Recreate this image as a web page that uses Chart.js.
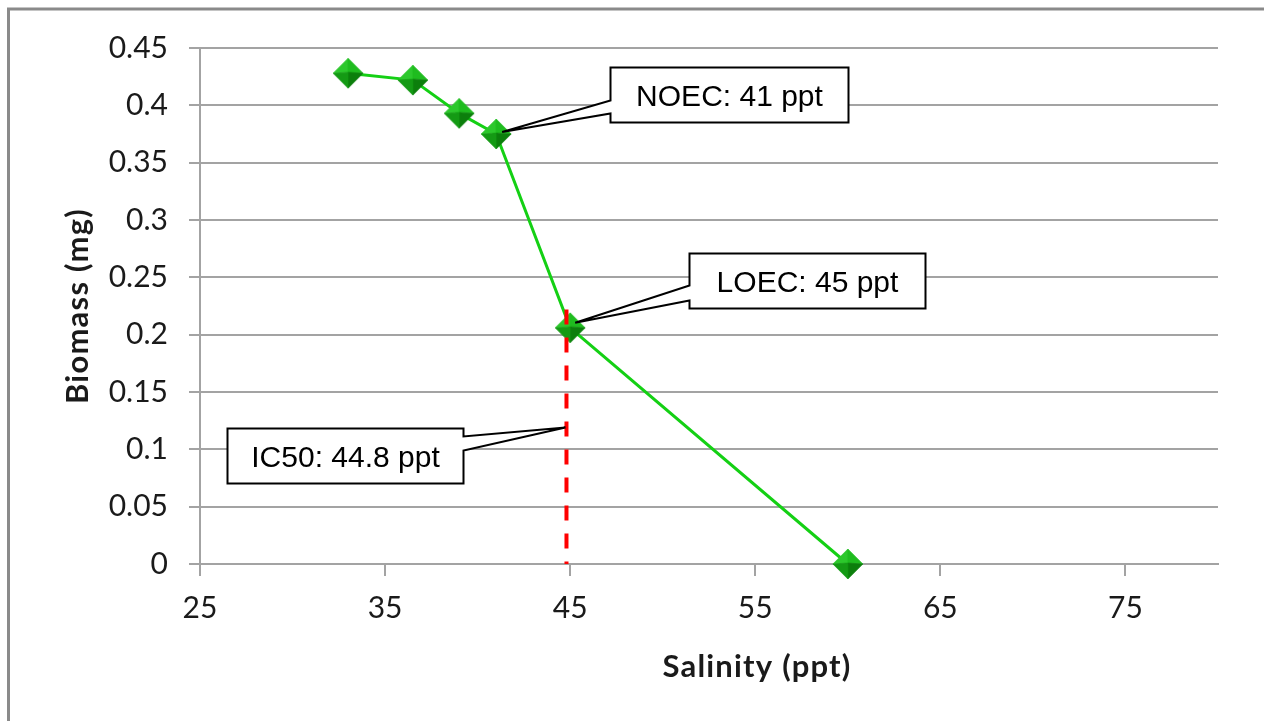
<!DOCTYPE html>
<html>
<head>
<meta charset="utf-8">
<script src="https://cdn.jsdelivr.net/npm/chart.js@4.4.1/dist/chart.umd.min.js"></script>
<style>
  html, body { margin: 0; padding: 0; background: #fff; overflow: hidden; }
  #wrap { position: absolute; left: 0; top: 0; width: 1264px; height: 721px; }
</style>
</head>
<body>
<div id="wrap"><canvas id="c" width="1264" height="721"></canvas></div>
<script>
// Biomass response to salinity
const salinity = [33, 36.5, 39, 41, 45, 60];
const biomass = [0.428, 0.422, 0.393, 0.375, 0.206, 0];

// IC50 marker line (x = 44.8 ppt)
const ic50X = [44.8, 44.8];
const ic50Y = [0.222, 0];

// Axes
const xTicks = [25, 35, 45, 55, 65, 75];
const yTicks = [0, 0.05, 0.1, 0.15, 0.2, 0.25, 0.3, 0.35, 0.4, 0.45];
const yTickLabels = ['0', '0.05', '0.1', '0.15', '0.2', '0.25', '0.3', '0.35', '0.4', '0.45'];
const xRange = [25, 80];
const yRange = [0, 0.45];
const xTitle = 'Salinity (ppt)';
const yTitle = 'Biomass (mg)';

// Callout texts and the data points they refer to
const calloutTexts = ['NOEC: 41 ppt', 'LOEC: 45 ppt', 'IC50: 44.8 ppt'];
const calloutX = [41, 45, 44.8];
const calloutY = [0.375, 0.206, 0.119];

// Callout box geometry (pixels, relative to the anchor point)
const calloutLayout = [
  { tip: [6, -2], box: [114, -67, 238, 55], side: 'left', wedge: [33, 46] },
  { tip: [5, -5], box: [119, -75, 236, 55], side: 'left', wedge: [32, 47] },
  { tip: [-1, 0], box: [-339, 0, 236, 55], side: 'right', wedge: [8, 22] }
];

// Bevelled diamond marker
function makeDiamond(r) {
  const s = 2 * r + 2;
  const c = document.createElement('canvas');
  c.width = s; c.height = s;
  const g = c.getContext('2d');
  const cx = s / 2, cy = s / 2;
  const T = [cx, cy - r], R = [cx + r, cy], B = [cx, cy + r], L = [cx - r, cy], C = [cx, cy - 1];
  const facets = [
    [L, T, C, '#2cc82c'],
    [T, R, C, '#1fbc1f'],
    [R, B, C, '#0c7f0c'],
    [B, L, C, '#149a14']
  ];
  facets.forEach(f => {
    g.beginPath();
    g.moveTo(f[0][0], f[0][1]);
    g.lineTo(f[1][0], f[1][1]);
    g.lineTo(f[2][0], f[2][1]);
    g.closePath();
    g.fillStyle = f[3];
    g.fill();
    g.strokeStyle = f[3];
    g.lineWidth = 0.6;
    g.stroke();
  });
  return c;
}
const diamond = makeDiamond(15);

const gridGray = '#a3a3a3';
const labelFont = { family: 'Lato', size: 30 };

const framePlugin = {
  id: 'frame',
  beforeDraw(chart) {
    const ctx = chart.ctx;
    ctx.save();
    ctx.fillStyle = '#ffffff';
    ctx.fillRect(0, 0, chart.width, chart.height);
    ctx.strokeStyle = '#8a8a8a';
    ctx.lineWidth = 3;
    ctx.beginPath();
    ctx.moveTo(8.5, chart.height + 5);
    ctx.lineTo(8.5, 9);
    ctx.lineTo(chart.width + 5, 9);
    ctx.stroke();
    ctx.restore();
  }
};

const calloutPlugin = {
  id: 'callouts',
  afterDatasetsDraw(chart) {
    const ctx = chart.ctx;
    const xs = chart.scales.x, ys = chart.scales.y;
    ctx.save();
    calloutTexts.forEach((text, i) => {
      const L = calloutLayout[i];
      const ax = xs.getPixelForValue(calloutX[i]);
      const ay = ys.getPixelForValue(calloutY[i]);
      const tx = ax + L.tip[0], ty = ay + L.tip[1];
      const bx = Math.round(ax + L.box[0]) + 0.5, by = Math.round(ay + L.box[1]) + 0.5;
      const bw = L.box[2], bh = L.box[3];
      ctx.beginPath();
      if (L.side === 'left') {
        ctx.moveTo(bx, by);
        ctx.lineTo(bx + bw, by);
        ctx.lineTo(bx + bw, by + bh);
        ctx.lineTo(bx, by + bh);
        ctx.lineTo(bx, by + L.wedge[1]);
        ctx.lineTo(tx, ty);
        ctx.lineTo(bx, by + L.wedge[0]);
        ctx.closePath();
      } else {
        ctx.moveTo(bx, by);
        ctx.lineTo(bx + bw, by);
        ctx.lineTo(bx + bw, by + L.wedge[0]);
        ctx.lineTo(tx, ty);
        ctx.lineTo(bx + bw, by + L.wedge[1]);
        ctx.lineTo(bx + bw, by + bh);
        ctx.lineTo(bx, by + bh);
        ctx.closePath();
      }
      ctx.fillStyle = '#ffffff';
      ctx.fill();
      ctx.strokeStyle = '#000000';
      ctx.lineWidth = 2;
      ctx.lineJoin = 'miter';
      ctx.stroke();
      ctx.fillStyle = '#000000';
      ctx.font = '30px "Liberation Sans", Arial, sans-serif';
      ctx.textAlign = 'center';
      ctx.textBaseline = 'alphabetic';
      ctx.fillText(text, bx + bw / 2, by + bh / 2 + 11);
    });
    ctx.restore();
  }
};

const axisTitlePlugin = {
  id: 'axisTitles',
  afterDraw(chart) {
    const ctx = chart.ctx;
    ctx.save();
    ctx.fillStyle = '#1a1a1a';
    ctx.font = 'bold 31px Lato, sans-serif';
    ctx.letterSpacing = '1.2px';
    ctx.textAlign = 'center';
    ctx.textBaseline = 'alphabetic';
    ctx.fillText(xTitle, 757, 677);
    ctx.translate(88, 306);
    ctx.rotate(-Math.PI / 2);
    ctx.fillText(yTitle, 0, 0);
    ctx.restore();
  }
};

new Chart(document.getElementById('c'), {
  type: 'scatter',
  data: {
    datasets: [
      {
        label: 'IC50',
        data: ic50X.map((x, i) => ({ x: x, y: ic50Y[i] })),
        showLine: true,
        borderColor: '#ff0000',
        borderWidth: 4,
        borderDash: [15, 13],
        borderCapStyle: 'butt',
        pointRadius: 0,
        clip: false,
        order: 0
      },
      {
        label: 'Biomass',
        data: salinity.map((x, i) => ({ x: x, y: biomass[i] })),
        showLine: true,
        borderColor: '#14d014',
        borderWidth: 3,
        tension: 0,
        pointStyle: diamond,
        pointRadius: 15,
        clip: false,
        order: 1
      }
    ]
  },
  options: {
    responsive: false,
    animation: false,
    events: [],
    layout: { padding: { left: 0, right: 46, top: 48, bottom: 0 } },
    plugins: { legend: { display: false }, tooltip: { enabled: false } },
    scales: {
      x: {
        type: 'linear',
        min: xRange[0],
        max: xRange[1],
        afterBuildTicks: s => { s.ticks = xTicks.map(v => ({ value: v })); },
        afterFit: s => { s.height = 157; },
        grid: { drawOnChartArea: false, drawTicks: true, tickLength: 12, color: gridGray, lineWidth: 2 },
        border: { color: gridGray, width: 2 },
        ticks: { font: labelFont, color: '#1a1a1a', padding: 14, maxRotation: 0, autoSkip: false }
      },
      y: {
        type: 'linear',
        min: yRange[0],
        max: yRange[1],
        afterBuildTicks: s => { s.ticks = yTicks.map(v => ({ value: v })); },
        afterFit: s => { s.width = 200; },
        grid: { drawTicks: true, tickLength: 11, color: gridGray, lineWidth: 2 },
        border: { color: gridGray, width: 2 },
        ticks: {
          font: labelFont,
          color: '#1a1a1a',
          padding: 21,
          autoSkip: false,
          callback: (v, i) => yTickLabels[i]
        }
      }
    }
  },
  plugins: [framePlugin, calloutPlugin, axisTitlePlugin]
});
</script>
</body>
</html>
